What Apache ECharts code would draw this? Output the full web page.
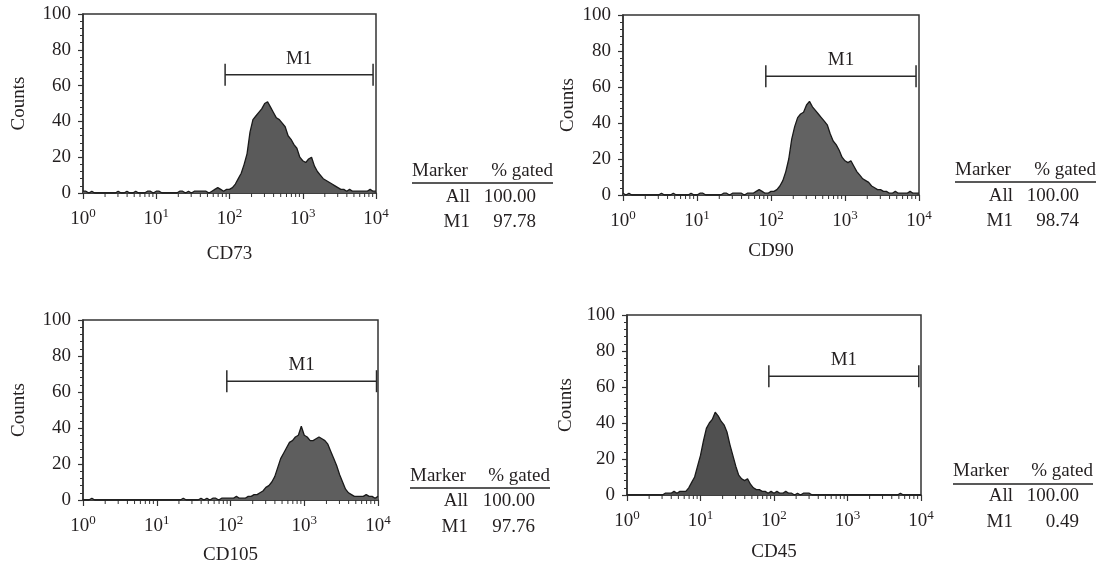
<!DOCTYPE html>
<html>
<head>
<meta charset="utf-8">
<script src="https://cdn.jsdelivr.net/npm/echarts@6/dist/echarts.min.js"></script>
<style>
html,body{margin:0;padding:0;background:#fff;}
#chart{width:1101px;height:574px;}
</style>
</head>
<body>
<div id="chart"></div>
<script>
// ---------- DATA ----------
// Histogram bins: log10 channel positions start at 0 and advance by binStep decades
const binStart = 0;
const binStep = 0.04;
const decadeExponents = [0, 1, 2, 3, 4];
const panelNames = ['CD73', 'CD90', 'CD105', 'CD45'];

const cd73Counts = [
  1,1,0,1,0,0,0,0,0,0,
  0,0,1,0,0,1,0,0,1,0,
  0,0,1,1,0,1,1,0,0,0,
  0,0,0,1,1,0,1,0,1,1,
  1,1,1,0,1,2,3,2,1,2,
  2,3,5,8,11,16,22,34,41,43,
  45,47,50,51,48,45,42,41,39,37,
  32,30,27,25,20,18,17,19,20,15,
  12,10,8,7,6,5,4,3,2,2,
  1,2,1,1,1,1,1,1,2,1,1
];
const cd90Counts = [
  1,0,1,0,0,0,0,0,0,0,
  0,0,0,1,0,0,0,1,0,0,
  0,0,0,1,0,0,1,1,0,0,
  0,0,0,0,1,1,0,1,1,1,
  1,0,1,1,1,2,3,2,1,1,
  2,2,3,5,8,13,20,31,38,43,
  45,46,50,52,49,47,45,43,41,39,
  34,30,28,25,21,19,18,19,16,13,
  11,9,8,7,5,4,3,3,2,2,
  1,1,2,1,1,1,1,2,1,1,1
];
const cd105Counts = [
  0,0,0,1,0,0,0,0,0,0,
  0,0,0,0,0,0,0,0,0,0,
  0,0,0,0,0,0,0,0,0,0,
  0,0,0,0,1,0,0,0,0,0,
  1,0,1,0,1,1,0,1,1,1,
  1,1,2,1,1,1,2,2,3,3,
  4,5,7,8,10,13,18,23,26,29,
  32,33,35,36,41,36,35,33,33,34,
  35,34,33,31,27,23,19,14,10,6,
  4,3,2,2,2,2,3,2,2,1,2
];
const cd45Counts = [
  0,0,0,0,0,0,0,0,0,0,
  0,0,0,1,1,1,2,1,2,2,
  2,4,7,10,16,22,30,37,40,42,
  46,44,41,39,35,28,22,16,11,9,
  8,9,6,4,3,3,2,2,1,2,
  1,2,1,1,2,1,1,0,1,0,
  1,1,1,0,0,0,0,0,0,0,
  0,0,0,0,0,0,0,0,0,0,
  0,0,0,0,0,0,0,0,0,0,
  0,0,0,1,0,0,0,0,0,0,0
];
const panelCounts = [cd73Counts, cd90Counts, cd105Counts, cd45Counts];

// M1 gate (log10 units) and its height in counts
const gateStart = [1.94, 1.93, 1.95, 1.93];
const gateEnd   = [3.96, 3.96, 3.98, 3.97];
const gateLevel = [66, 66, 66, 66];
const gateLabel = 'M1';

// Statistics tables
const tableHeader = ['Marker', '% gated'];
const tableMarkers = ['All', 'M1'];
const gatedAll = ['100.00', '100.00', '100.00', '100.00'];
const gatedM1  = ['97.78', '98.74', '97.76', '0.49'];

// ---------- LAYOUT ----------
const FONT = '"Liberation Serif", "Times New Roman", serif';
const FS = 19;
const TXT = '#231f20';
const AX = '#333333';
const grids = [
  {left: 83,  top: 14,  width: 293, height: 179},
  {left: 623, top: 15,  width: 296, height: 180},
  {left: 83,  top: 320, width: 295, height: 180},
  {left: 627, top: 315, width: 294, height: 180}
];
const yNameGap = [54, 45, 54, 51];
const xNameGap = [52, 47, 46, 48];
const fills = ['#5a5a5a', '#626262', '#5e5e5e', '#505050'];
// table anchors
const tables = [
  {mx: 412, hy: 171, uy: 183, cr: 470, vr: 536, r1: 197, r2: 222, ur: 553},
  {mx: 955, hy: 170, uy: 182, cr: 1013, vr: 1079, r1: 196, r2: 221, ur: 1096},
  {mx: 410, hy: 476, uy: 488, cr: 468, vr: 535, r1: 501, r2: 527, ur: 550},
  {mx: 953, hy: 471, uy: 484, cr: 1013, vr: 1079, r1: 496, r2: 522, ur: 1093}
];

// minor tick positions on the log axis (2..9 within each decade)
const minorTicks = [];
for (let n = 0; n < 4; n++) for (let k = 2; k <= 9; k++) minorTicks.push(n + Math.log10(k));

const chart = echarts.init(document.getElementById('chart'), null, {renderer: 'canvas'});

const option = {
  animation: false,
  backgroundColor: '#fff',
  grid: [], xAxis: [], yAxis: [], series: [], graphic: []
};

grids.forEach((g, i) => {
  option.grid.push(Object.assign({show: true, borderColor: AX, borderWidth: 1.5, backgroundColor: 'transparent'}, g));
  option.xAxis.push({
    type: 'value', gridIndex: i, min: 0, max: 4, interval: 1,
    name: panelNames[i], nameLocation: 'middle', nameGap: xNameGap[i],
    nameTextStyle: {fontFamily: FONT, fontSize: FS, color: TXT},
    axisLine: {show: true, onZero: false, lineStyle: {color: AX, width: 1.5}},
    axisTick: {show: true, inside: false, length: 6, lineStyle: {color: AX, width: 1.2}},
    splitLine: {show: false},
    axisLabel: {
      margin: 14,
      formatter: v => '{b|10}{s|' + decadeExponents[Math.round(v)] + '}',
      rich: {
        b: {fontFamily: FONT, fontSize: FS, color: TXT, lineHeight: 22, verticalAlign: 'bottom'},
        s: {fontFamily: FONT, fontSize: 13, color: TXT, lineHeight: 13, verticalAlign: 'top'}
      }
    }
  });
  option.yAxis.push({
    type: 'value', gridIndex: i, min: 0, max: 100, interval: 20,
    name: 'Counts', nameLocation: 'middle', nameGap: yNameGap[i], nameRotate: 90,
    nameTextStyle: {fontFamily: FONT, fontSize: FS, color: TXT},
    axisLine: {show: true, lineStyle: {color: AX, width: 1.5}},
    axisTick: {show: true, inside: false, length: 5, lineStyle: {color: AX, width: 1.2}},
    minorTick: {show: true, splitNumber: 5, length: 3, lineStyle: {color: AX, width: 1}},
    splitLine: {show: false},
    axisLabel: {margin: 12, fontFamily: FONT, fontSize: FS, color: TXT}
  });
  // histogram
  option.series.push({
    type: 'line', xAxisIndex: i, yAxisIndex: i,
    data: panelCounts[i].map((c, j) => [binStart + j * binStep, c]),
    symbol: 'none', smooth: false, silent: true,
    lineStyle: {color: '#1a1a1a', width: 1.3},
    areaStyle: {color: fills[i], opacity: 1}
  });
  // minor log ticks on the x axis
  option.series.push({
    type: 'custom', xAxisIndex: i, yAxisIndex: i, silent: true, clip: false,
    data: minorTicks.map(t => [t, 0]),
    renderItem: (params, api) => {
      const p = api.coord([api.value(0), 0]);
      return {type: 'line', shape: {x1: p[0], y1: p[1], x2: p[0], y2: p[1] + 4},
              style: {stroke: AX, lineWidth: 1}};
    }
  });
  // M1 gate
  option.series.push({
    type: 'custom', xAxisIndex: i, yAxisIndex: i, silent: true, clip: false,
    data: [[gateStart[i], gateEnd[i], gateLevel[i]]],
    encode: {x: [0, 1], y: 2},
    renderItem: (params, api) => {
      const y = api.value(2);
      const a = api.coord([api.value(0), y]);
      const b = api.coord([api.value(1), y]);
      const st = {stroke: '#2a2a2a', lineWidth: 1.5};
      return {type: 'group', children: [
        {type: 'line', shape: {x1: a[0], y1: a[1], x2: b[0], y2: b[1]}, style: st},
        {type: 'line', shape: {x1: a[0], y1: a[1] - 11, x2: a[0], y2: a[1] + 11}, style: st},
        {type: 'line', shape: {x1: b[0], y1: b[1] - 11, x2: b[0], y2: b[1] + 11}, style: st},
        {type: 'text', x: (a[0] + b[0]) / 2, y: a[1] - 16,
         style: {text: gateLabel, fill: TXT, font: FS + 'px ' + FONT, align: 'center', verticalAlign: 'middle', textAlign: 'center', textVerticalAlign: 'middle'}}
      ]};
    }
  });
  // statistics table
  const t = tables[i];
  const f = FS + 'px ' + FONT;
  const txt = (s, x, y, al) => ({type: 'text', silent: true, style: {text: s, x: x, y: y, font: f, fill: TXT, align: al, verticalAlign: 'middle'}});
  option.graphic.push(
    txt(tableHeader[0], t.mx, t.hy, 'left'),
    txt(tableHeader[1], t.ur, t.hy, 'right'),
    {type: 'line', silent: true, shape: {x1: t.mx, y1: t.uy, x2: t.ur, y2: t.uy}, style: {stroke: '#222', lineWidth: 1.5}},
    txt(tableMarkers[0], t.cr, t.r1, 'right'),
    txt(gatedAll[i], t.vr, t.r1, 'right'),
    txt(tableMarkers[1], t.cr, t.r2, 'right'),
    txt(gatedM1[i], t.vr, t.r2, 'right')
  );
});

chart.setOption(option);
</script>
</body>
</html>
